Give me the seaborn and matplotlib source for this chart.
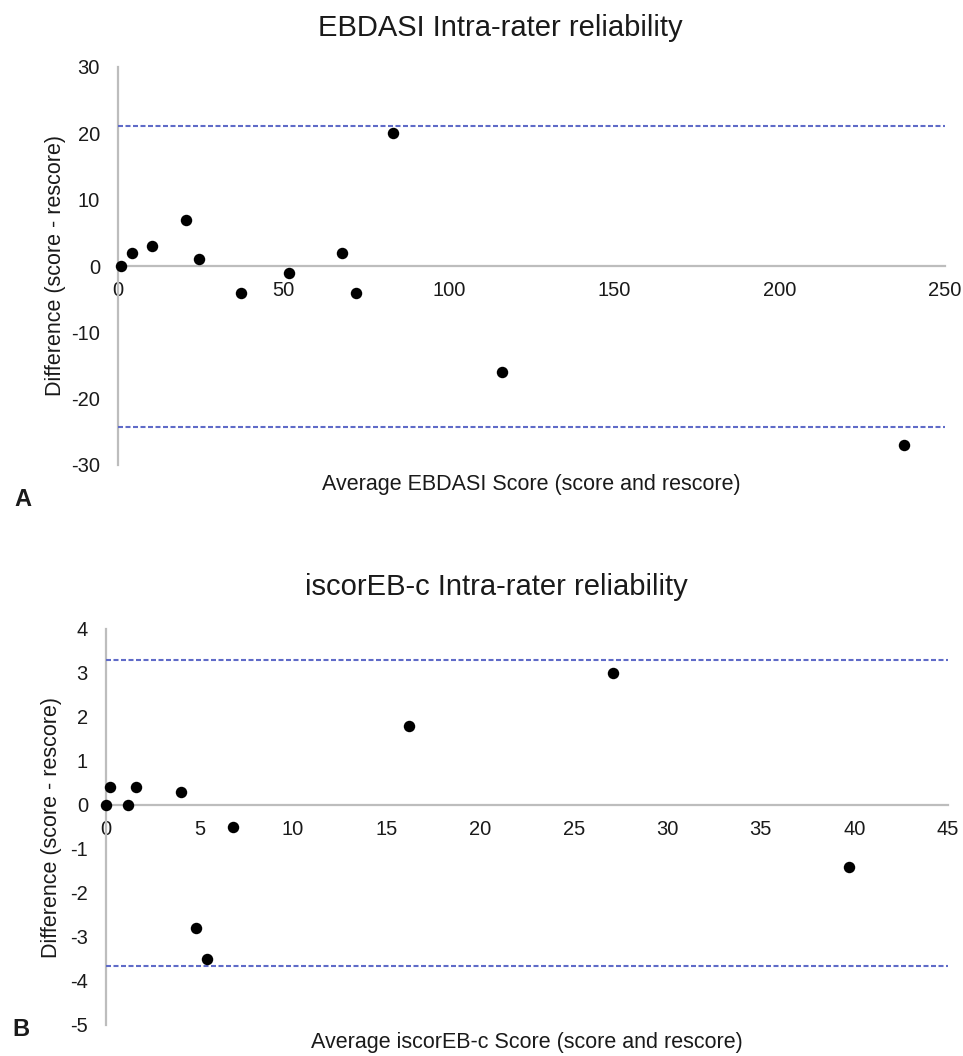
import matplotlib
matplotlib.use("Agg")
import matplotlib.pyplot as plt
import seaborn as sns
import pandas as pd

# ---- Data: panel A (EBDASI) ----
ebdasi_avg = [0.9, 4.1, 10.4, 20.5, 24.5, 37.1, 51.7, 67.8, 72.0, 83.0, 116.1, 237.6]
ebdasi_diff = [0, 2, 3, 7, 1, -4, -1, 2, -4, 20, -16, -27]
ebdasi_loa = [21.1, -24.2]
ebdasi_xticks = [0, 50, 100, 150, 200, 250]
ebdasi_yticks = [-30, -20, -10, 0, 10, 20, 30]

# ---- Data: panel B (iscorEB-c) ----
iscor_avg = [0.0, 0.2, 1.2, 1.6, 4.0, 6.8, 4.8, 5.4, 16.2, 27.1, 39.7]
iscor_diff = [0, 0.4, 0, 0.4, 0.3, -0.5, -2.8, -3.5, 1.8, 3.0, -1.4]
iscor_loa = [3.3, -3.66]
iscor_xticks = [0, 5, 10, 15, 20, 25, 30, 35, 40, 45]
iscor_yticks = [-5, -4, -3, -2, -1, 0, 1, 2, 3, 4]

sns.set_theme(style="white")
plt.rcParams['font.family'] = ['Liberation Sans', 'DejaVu Sans']

W, H = 963, 1056
fig = plt.figure(figsize=(W / 100, H / 100), dpi=100)

def px_axes(x0, x1, y0, y1):
    return fig.add_axes([x0 / W, 1 - y1 / H, (x1 - x0) / W, (y1 - y0) / H])

SPINE = "#bdbdbd"
DASH = "#5f6bc8"
TXT = "#1a1a1a"

def style(ax, x, y, loa, xticks, yticks, xlim, ylim, title, xlabel, ylabel,
          xlab_y, ylab_x, title_x, title_y):
    df = pd.DataFrame({"x": x, "y": y})
    sns.scatterplot(data=df, x="x", y="y", ax=ax, color="black", s=68,
                    edgecolor="black", linewidth=0, zorder=5, clip_on=False)
    for v in loa:
        ax.axhline(v, color=DASH, lw=1.5, ls=(0, (2.4, 1.2)), zorder=3)
    ax.set_xlim(*xlim)
    ax.set_ylim(*ylim)
    ax.set_xticks(xticks)
    ax.set_yticks(yticks)
    ax.set_xticklabels([str(t) for t in xticks])
    ax.set_yticklabels([str(t) for t in yticks])
    ax.spines['left'].set_position(('data', 0))
    ax.spines['bottom'].set_position(('data', 0))
    ax.spines['top'].set_visible(False)
    ax.spines['right'].set_visible(False)
    for s in ('left', 'bottom'):
        ax.spines[s].set_color(SPINE)
        ax.spines[s].set_linewidth(1.6)
    ax.tick_params(axis='both', length=0, labelsize=14.5, labelcolor=TXT)
    ax.tick_params(axis='y', pad=13)
    ax.tick_params(axis='x', pad=11)
    ax.set_xlabel(xlabel, fontsize=15.5, color=TXT)
    ax.set_ylabel(ylabel, fontsize=15.5, color=TXT)
    ax.xaxis.set_label_coords(0.5, xlab_y)
    ax.yaxis.set_label_coords(ylab_x, 0.5)
    ax.set_title(title, fontsize=21, color=TXT, x=title_x, y=title_y, pad=0)
    ax.patch.set_alpha(0)

axA = px_axes(118, 945, 67, 465)
style(axA, ebdasi_avg, ebdasi_diff, ebdasi_loa, ebdasi_xticks, ebdasi_yticks,
      (0, 250), (-30, 30), "EBDASI Intra-rater reliability",
      "Average EBDASI Score (score and rescore)", "Difference (score - rescore)",
      -0.023, -0.063, 0.462, 1.078)

axB = px_axes(106, 948, 629, 1025)
style(axB, iscor_avg, iscor_diff, iscor_loa, iscor_xticks, iscor_yticks,
      (0, 45), (-5, 4), "iscorEB-c Intra-rater reliability",
      "Average iscorEB-c Score (score and rescore)", "Difference (score - rescore)",
      -0.018, -0.052, 0.464, 1.086)

fig.text(14 / W, 1 - 500 / H, "A", fontsize=17, fontweight="bold", color=TXT,
         va="center", ha="left")
fig.text(12 / W, 1 - 1030 / H, "B", fontsize=17, fontweight="bold", color=TXT,
         va="center", ha="left")

fig.savefig("out.png", dpi=100, facecolor="white")
